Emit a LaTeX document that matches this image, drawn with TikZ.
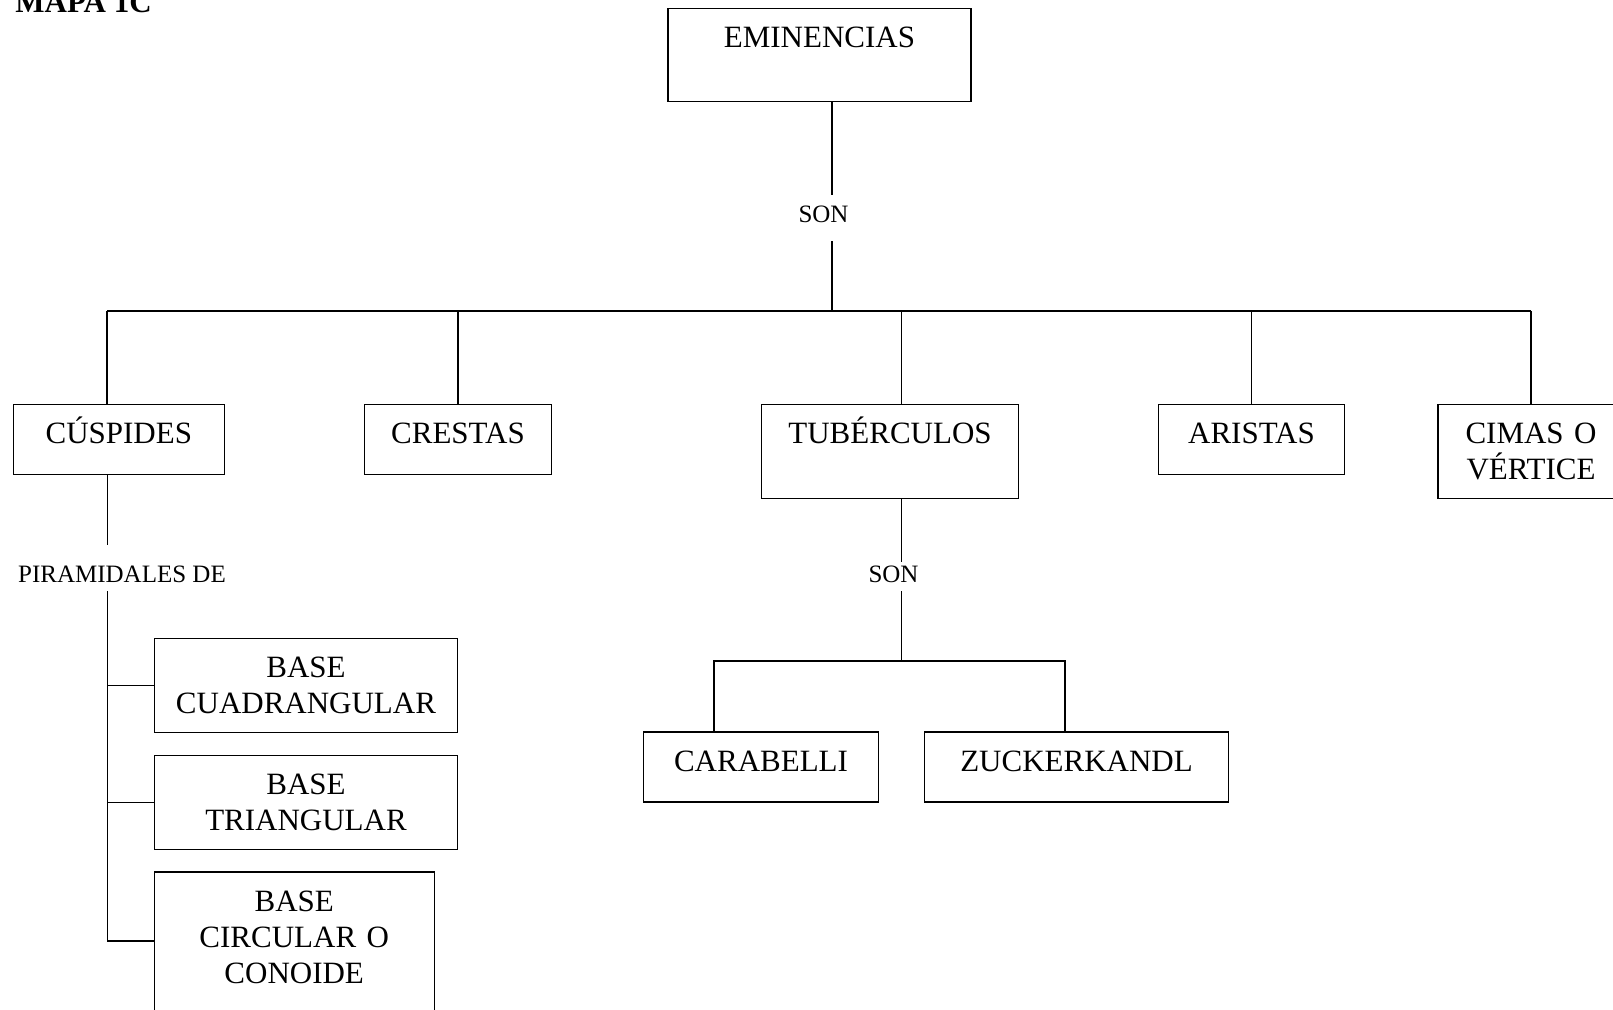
\documentclass[tikz,border=0pt]{standalone}
\usepackage{fontspec}
\setmainfont{Liberation Serif}
\usepackage{tikz}
\tikzstyle{block} = [rectangle, draw, line width=0.7pt, anchor=north, inner sep=0pt,
    align=center, text height=19.5pt, font=\fontsize{15.5}{18}\selectfont]
\tikzstyle{tag} = [anchor=base, inner sep=0pt, font=\fontsize{12.5}{15}\selectfont]
\tikzstyle{link} = [line width=0.7pt]

\begin{document}
\begin{tikzpicture}[x=0.5pt, y=-0.5pt]
    \clip (0,0) rectangle (1613,1010);

    \node[anchor=base west, inner sep=0pt, font=\fontsize{15.5}{18}\selectfont\bfseries] (title) at (15,13) {MAPA 1C};

    \node[block, text width=151.5pt, text depth=27pt] (eminencias) at (819.5,8) {EMINENCIAS};
    \node[tag, text height=14pt, text depth=9pt] (sona) at (823.5,223) {SON};

    \node[block, text width=105.5pt, text depth=15.5pt] (cuspides) at (118.8,404) {CÚSPIDES};
    \node[block, text width=93.5pt, text depth=15.5pt] (crestas) at (458,404) {CRESTAS};
    \node[block, text width=128.5pt, text depth=27.5pt] (tuberculos) at (890,404) {TUBÉRCULOS};
    \node[block, text width=93pt, text depth=15.5pt] (aristas) at (1251.5,404) {ARISTAS};
    \node[block, text width=93pt, text depth=27.5pt] (cimas) at (1531,404) {CIMAS O\\VÉRTICE};

    \node[tag, text height=18.5pt, text depth=4.5pt] (piramidales) at (122,582) {PIRAMIDALES DE};
    \node[block, text width=151.75pt, text depth=27.3pt] (basecuad) at (306,638) {BASE\\CUADRANGULAR};
    \node[block, text width=151.75pt, text depth=27.3pt] (basetri) at (306,755) {BASE\\TRIANGULAR};
    \node[block, text width=140pt, text depth=65.5pt] (basecirc) at (294.2,871.3) {BASE\\CIRCULAR O\\CONOIDE};

    \node[tag, text height=10pt, text depth=4.5pt] (sonb) at (893.5,582) {SON};
    \node[block, text width=117.25pt, text depth=15.5pt] (carabelli) at (761,731.4) {CARABELLI};
    \node[block, text width=151.75pt, text depth=15.5pt] (zuckerkandl) at (1076.5,731.4) {ZUCKERKANDL};

    \coordinate (trunk) at (832,311);
    \coordinate (lbar) at (107,311);
    \coordinate (rbar) at (1531,311);
    \coordinate (tubfork) at (901.5,661);
    \coordinate (spine) at (107.7,941);
    \coordinate (carjoint) at (714,661);
    \coordinate (zuckjoint) at (1065,661);

    \draw[link] (trunk |- eminencias.south) -- (trunk |- sona.north);
    \draw[link] (trunk |- sona.south) -- (trunk);
    \draw[link] (lbar) -- (rbar);
    \draw[link] (lbar) -- (lbar |- cuspides.north);
    \draw[link] (crestas.north |- lbar) -- (crestas.north);
    \draw[link] (tubfork |- lbar) -- (tubfork |- tuberculos.north);
    \draw[link] (aristas.north |- lbar) -- (aristas.north);
    \draw[link] (rbar) -- (cimas.north);

    \draw[link] (spine |- cuspides.south) -- (spine |- piramidales.north);
    \draw[link] (spine |- piramidales.south) -- (spine) -- (spine -| basecirc.west);
    \draw[link] (spine |- basecuad.west) -- (basecuad.west);
    \draw[link] (spine |- basetri.west) -- (basetri.west);

    \draw[link] (tubfork |- tuberculos.south) -- (tubfork |- sonb.north);
    \draw[link] (tubfork |- sonb.south) -- (tubfork);
    \draw[link] (carabelli.north -| carjoint) -- (carjoint) -- (zuckjoint) -- (zuckerkandl.north -| zuckjoint);
\end{tikzpicture}
\end{document}
